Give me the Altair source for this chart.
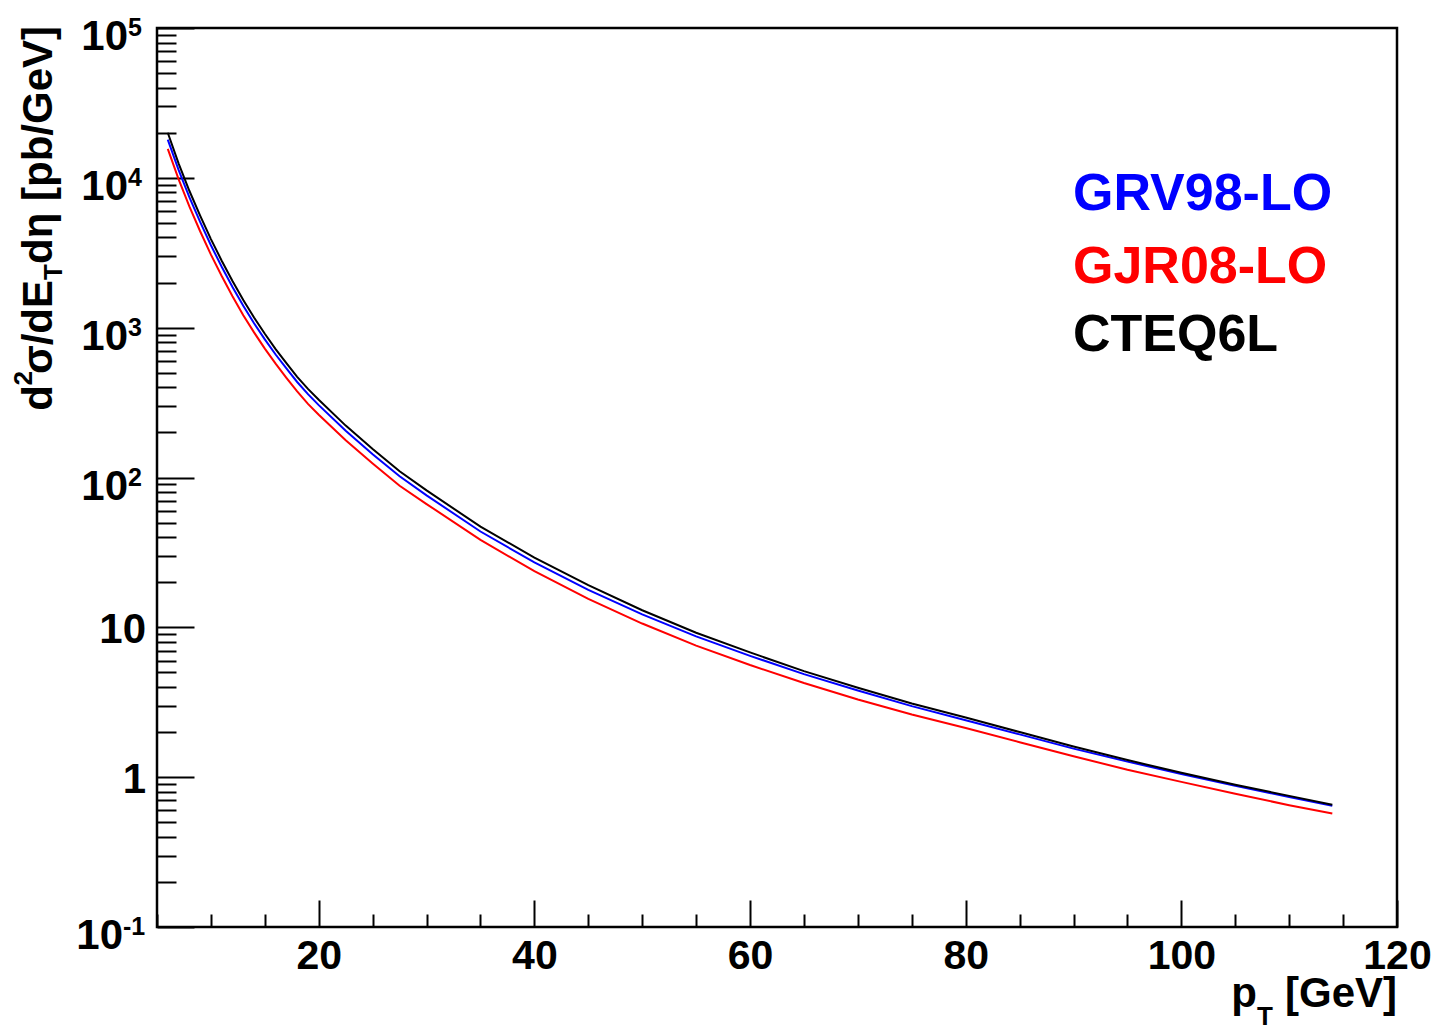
import altair as alt
import pandas as pd

# ---------------- data ----------------
pt = [6, 7, 8, 9, 10, 11, 12, 13, 14, 15, 16, 17, 18, 19, 20, 22.5, 25, 27.5, 30, 35,
      40, 45, 50, 55, 60, 65, 70, 75, 80, 85, 90, 95, 100, 105, 110, 114]
grv98 = [18000, 11300, 7430, 5080, 3550, 2550, 1870, 1400, 1070, 835, 662, 535, 434, 360,
         304, 205, 143, 102, 76, 43.6, 27.1, 17.8, 12.2, 8.7, 6.45, 4.87, 3.79, 2.98, 2.4,
         1.93, 1.55, 1.27, 1.05, 0.875, 0.738, 0.645]
gjr08 = [15600, 9800, 6440, 4400, 3070, 2210, 1620, 1210, 930, 725, 575, 463, 376, 310,
         262, 177, 124, 88, 66.5, 38.3, 23.7, 15.5, 10.6, 7.55, 5.6, 4.25, 3.3, 2.62, 2.13,
         1.71, 1.38, 1.12, 0.93, 0.775, 0.65, 0.572]
cteq6l = [20000, 12500, 8200, 5600, 3900, 2800, 2050, 1530, 1170, 910, 720, 580, 470, 390,
          330, 222, 155, 110, 82, 47, 29.2, 19.1, 13.0, 9.2, 6.8, 5.1, 3.95, 3.1, 2.5,
          2.0, 1.6, 1.3, 1.07, 0.89, 0.75, 0.655]

series_names = ["GRV98-LO", "GJR08-LO", "CTEQ6L"]
series_colors = ["#0000ff", "#ff0000", "#000000"]

x_label_values = [20, 40, 60, 80, 100, 120]
x_major_ticks = [20, 40, 60, 80, 100, 120]
x_minor_ticks = [5, 10, 15, 25, 30, 35, 45, 50, 55, 65, 70, 75, 85, 90, 95, 105, 110, 115]
y_major_ticks = [0.1, 1, 10, 100, 1000, 10000, 100000]
y_minor_ticks = [k * m for m in [0.1, 1, 10, 100, 1000, 10000] for k in range(2, 10)]

# y tick labels: base and superscript exponent
y_label_values = [100000, 10000, 1000, 100, 10, 1, 0.1]
y_label_base = ["10", "10", "10", "10", "10", "1", "10"]
y_label_exp = ["5", "4", "3", "2", "", "", "-1"]

W, H = 1240, 899
FONT = "Liberation Sans"

xscale = alt.Scale(domain=[5, 120], nice=False, zero=False)
yscale = alt.Scale(type="log", domain=[0.1, 100000], nice=False)


def line_layer(values, color, xaxis, yaxis):
    df = pd.DataFrame({"pt": pt, "v": values})
    return alt.Chart(df).mark_line(color=color, strokeWidth=2, clip=True).encode(
        x=alt.X("pt:Q", scale=xscale, axis=xaxis),
        y=alt.Y("v:Q", scale=yscale, axis=yaxis),
    )


# axes: labels on bottom, ticks drawn inward (ROOT style)
x_lab_axis = alt.Axis(values=x_label_values, ticks=False, tickSize=0, domain=False, grid=False,
                      labelFont=FONT, labelFontWeight="bold", labelFontSize=41,
                      labelColor="black", labelPadding=9, labelFlush=False,
                      labelOverlap=False, title=None)
x_major_axis = alt.Axis(orient="top", offset=-H, values=x_major_ticks, labels=False,
                        domain=False, grid=False, ticks=True, tickSize=27, tickWidth=2,
                        tickColor="black", title=None)
y_major_axis = alt.Axis(orient="right", offset=-W, values=y_major_ticks, labels=False,
                        domain=False, grid=False, ticks=True, tickSize=37, tickWidth=2,
                        tickColor="black", title=None)
x_minor_axis = alt.Axis(orient="top", offset=-H, values=x_minor_ticks, labels=False,
                        domain=False, grid=False, ticks=True, tickSize=13, tickWidth=2,
                        tickColor="black", title=None)
y_minor_axis = alt.Axis(orient="right", offset=-W, values=y_minor_ticks, labels=False,
                        domain=False, grid=False, ticks=True, tickSize=19, tickWidth=2,
                        tickColor="black", title=None)

l_grv = line_layer(grv98, series_colors[0], x_major_axis, y_major_axis)
l_gjr = line_layer(gjr08, series_colors[1], x_minor_axis, y_minor_axis)
l_cteq = line_layer(cteq6l, series_colors[2], x_lab_axis, None)

# ---- y tick labels as text through the y scale ----
ylab = pd.DataFrame({"v": y_label_values, "base": y_label_base, "exp": y_label_exp})


def ylab_layer(rows, field, x, dy, size, align):
    return alt.Chart(ylab[rows]).mark_text(
        font=FONT, fontWeight="bold", fontSize=size, color="black", align=align,
        baseline="alphabetic", dy=dy,
    ).encode(x=alt.value(x), y=alt.Y("v:Q", scale=yscale, axis=None), text=f"{field}:N")


pos_exp = ylab["exp"].isin(["2", "3", "4", "5"])
plain = ylab["exp"] == ""
neg_exp = ylab["exp"] == "-1"
ylabels = [
    ylab_layer(pos_exp, "base", -29, 22, 42, "right"),
    ylab_layer(pos_exp, "exp", -29, 8, 25, "left"),
    ylab_layer(plain, "base", -11, 16, 42, "right"),
    ylab_layer(neg_exp, "base", -34, 22, 42, "right"),
    ylab_layer(neg_exp, "exp", -34, 8, 25, "left"),
]


def text_layer(s, x, y, size, color="black", align="left", angle=0):
    return alt.Chart(pd.DataFrame({"s": [s]})).mark_text(
        font=FONT, fontWeight="bold", fontSize=size, color=color, align=align,
        baseline="alphabetic", angle=angle,
    ).encode(text="s:N", x=alt.value(x), y=alt.value(y))


# legend texts
legend = [
    text_layer(series_names[0], 916, 182, 52, series_colors[0]),
    text_layer(series_names[1], 916, 255, 52, series_colors[1]),
    text_layer(series_names[2], 916, 323, 52, series_colors[2]),
]

# x-axis title: p_T [GeV]
xtitle = [
    text_layer("[GeV]", W, 1007 - 28, 42, align="right"),
    text_layer("T", W - 124, 1025 - 28, 26, align="right"),
    text_layer("p", W - 140, 1007 - 28, 42, align="right"),
]

# y-axis title: d^2 sigma / dE_T d eta [pb/GeV]  (rotated, reads bottom to top)
yb = 52 - 157
ytitle = [
    text_layer("dη [pb/GeV]", yb, -2, 42, align="right", angle=270),
    text_layer("T", yb + 10, 236, 26, align="right", angle=270),
    text_layer("σ/dE", yb, 252, 42, align="right", angle=270),
    text_layer("2", yb - 20, 343, 26, align="right", angle=270),
    text_layer("d", yb, 357, 42, align="right", angle=270),
]

chart = alt.layer(l_grv, l_gjr, l_cteq, *ylabels, *legend, *xtitle, *ytitle).resolve_axis(
    x="independent", y="independent"
).properties(
    width=W, height=H,
    padding={"left": 157, "top": 28, "right": 40, "bottom": 104},
    autosize=alt.AutoSizeParams(type="none"),
    background="white",
).configure_view(stroke="black", strokeWidth=2.5)

chart.save("out.html", embed_options={"renderer": "svg", "actions": False})
